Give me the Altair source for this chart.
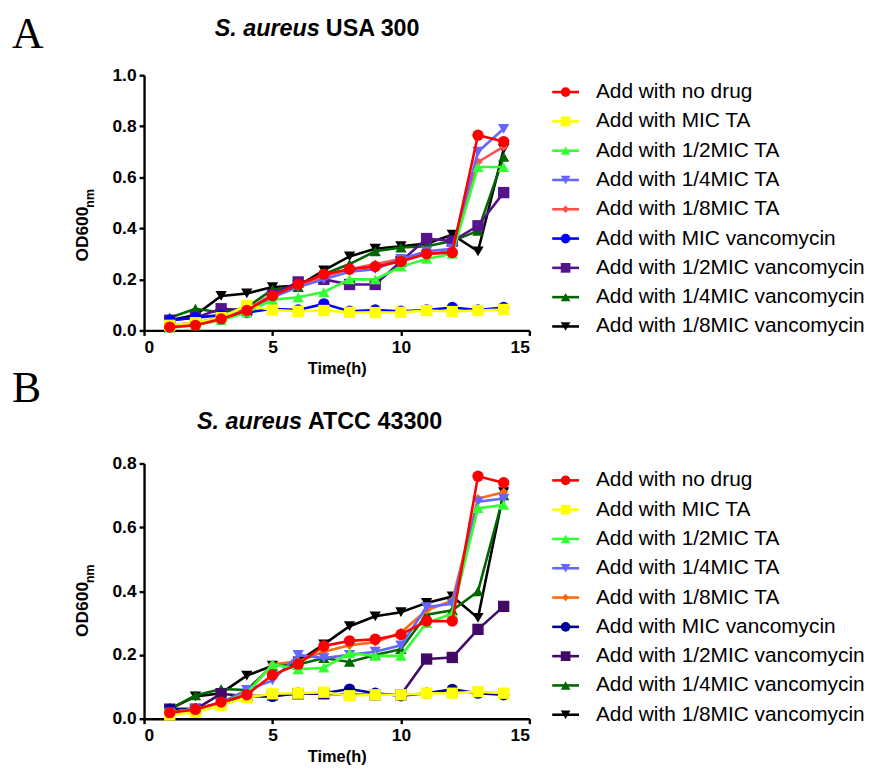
import altair as alt
import pandas as pd

hours = list(range(1, 15))

names = ["Add with no drug", "Add with MIC TA", "Add with 1/2MIC TA", "Add with 1/4MIC TA",
         "Add with 1/8MIC TA", "Add with MIC vancomycin", "Add with 1/2MIC vancomycin",
         "Add with 1/4MIC vancomycin", "Add with 1/8MIC vancomycin"]
shapes = ["circle", "square", "triangle-up", "triangle-down", "diamond",
          "circle", "square", "triangle-up", "triangle-down"]
colors_A = ["#FF0000", "#FFFF00", "#33FF33", "#6666FF", "#FF5050",
            "#0000FF", "#56148C", "#006600", "#000000"]
colors_B = ["#FF0000", "#FFFF00", "#33FF33", "#6666FF", "#FF6A10",
            "#000099", "#420A66", "#006600", "#000000"]

# Panel A: S. aureus USA 300
noDrug_A    = [0.013, 0.020, 0.045, 0.078, 0.136, 0.180, 0.220, 0.240, 0.250, 0.270, 0.300, 0.305, 0.765, 0.740]
micTA_A     = [0.020, 0.030, 0.050, 0.098, 0.080, 0.075, 0.078, 0.071, 0.070, 0.071, 0.078, 0.074, 0.078, 0.082]
halfTA_A    = [0.010, 0.020, 0.040, 0.070, 0.120, 0.130, 0.150, 0.200, 0.200, 0.250, 0.280, 0.300, 0.640, 0.640]
quarterTA_A = [0.020, 0.030, 0.050, 0.080, 0.130, 0.170, 0.200, 0.230, 0.240, 0.280, 0.310, 0.320, 0.700, 0.790]
eighthTA_A  = [0.020, 0.030, 0.050, 0.080, 0.140, 0.170, 0.210, 0.240, 0.260, 0.280, 0.300, 0.310, 0.660, 0.720]
micV_A      = [0.040, 0.050, 0.060, 0.070, 0.085, 0.080, 0.104, 0.075, 0.080, 0.075, 0.080, 0.090, 0.080, 0.090]
halfV_A     = [0.040, 0.050, 0.085, 0.080, 0.140, 0.190, 0.200, 0.180, 0.180, 0.270, 0.360, 0.350, 0.410, 0.540]
quarterV_A  = [0.050, 0.085, 0.070, 0.090, 0.160, 0.170, 0.220, 0.260, 0.310, 0.325, 0.330, 0.350, 0.390, 0.680]
eighthV_A   = [0.040, 0.060, 0.135, 0.145, 0.170, 0.175, 0.235, 0.290, 0.320, 0.330, 0.340, 0.375, 0.310, 0.710]

# Panel B: S. aureus ATCC 43300
noDrug_B    = [0.019, 0.029, 0.052, 0.075, 0.137, 0.171, 0.228, 0.244, 0.249, 0.264, 0.306, 0.306, 0.760, 0.740]
micTA_B     = [0.012, 0.020, 0.041, 0.067, 0.078, 0.080, 0.083, 0.072, 0.075, 0.075, 0.080, 0.080, 0.085, 0.080]
halfTA_B    = [0.020, 0.030, 0.050, 0.080, 0.170, 0.155, 0.160, 0.205, 0.197, 0.197, 0.300, 0.330, 0.660, 0.670]
quarterTA_B = [0.020, 0.030, 0.050, 0.090, 0.120, 0.200, 0.190, 0.200, 0.210, 0.230, 0.350, 0.360, 0.680, 0.690]
eighthTA_B  = [0.020, 0.030, 0.050, 0.080, 0.170, 0.180, 0.210, 0.230, 0.240, 0.270, 0.340, 0.370, 0.690, 0.710]
micV_B      = [0.030, 0.030, 0.050, 0.070, 0.070, 0.080, 0.080, 0.093, 0.080, 0.072, 0.080, 0.092, 0.080, 0.075]
halfV_B     = [0.030, 0.030, 0.078, 0.070, 0.075, 0.078, 0.078, 0.075, 0.075, 0.075, 0.187, 0.192, 0.280, 0.352]
quarterV_B  = [0.030, 0.073, 0.093, 0.090, 0.166, 0.170, 0.190, 0.178, 0.200, 0.218, 0.326, 0.340, 0.399, 0.700]
eighthV_B   = [0.030, 0.070, 0.080, 0.135, 0.166, 0.180, 0.233, 0.290, 0.321, 0.334, 0.363, 0.383, 0.316, 0.710]

series_A = [noDrug_A, micTA_A, halfTA_A, quarterTA_A, eighthTA_A, micV_A, halfV_A, quarterV_A, eighthV_A]
series_B = [noDrug_B, micTA_B, halfTA_B, quarterTA_B, eighthTA_B, micV_B, halfV_B, quarterV_B, eighthV_B]

W, H = 388, 257
FONT = "Liberation Sans"
one = pd.DataFrame({"k": [0]})


def text_layer(txt, x, y, size, weight="bold", style="normal", align="center",
               baseline="middle", angle=0, font=FONT):
    return alt.Chart(one).mark_text(
        text=txt, fontSize=size, fontWeight=weight, fontStyle=style, align=align,
        baseline=baseline, angle=angle, font=font, color="black"
    ).encode(x=alt.value(x), y=alt.value(y))


def panel(series, colors, ymax, letter, strain, split, letter_y, title_y, od_y, nm_y):
    rows = []
    for n, vals in zip(names, series):
        for t, v in zip(hours, vals):
            rows.append({"t": t, "od": v, "series": n})
    df = pd.DataFrame(rows)

    xenc = alt.X("t:Q", scale=alt.Scale(domain=[0, 15], nice=False),
                 axis=alt.Axis(values=[0, 5, 10, 15], title="Time(h)", format="d"))
    yenc = alt.Y("od:Q", scale=alt.Scale(domain=[0, ymax], nice=False),
                 axis=alt.Axis(values=[round(0.2 * i, 1) for i in range(int(round(ymax / 0.2)) + 1)],
                               format=".1f", title=None))

    data_layers = []
    for i in reversed(range(len(names))):
        base = alt.Chart(df).transform_filter(alt.datum.series == names[i])
        size = 85 if shapes[i] == "diamond" else 130
        data_layers.append(base.mark_line(strokeWidth=2.6, color=colors[i]).encode(x=xenc, y=yenc))
        data_layers.append(base.mark_point(shape=shapes[i], filled=True, opacity=1, size=size,
                                           color=colors[i]).encode(x=xenc, y=yenc))
    data = alt.layer(*data_layers)

    leg_df = pd.DataFrame({"name": names, "row": list(range(len(names))),
                           "sz": [55 if s == "diamond" else 95 for s in shapes]})
    ly = alt.Y("row:Q", scale=alt.Scale(domain=[0, 8], range=[17, 253]), axis=None)
    lcol = alt.Color("name:N", scale=alt.Scale(domain=names, range=colors), legend=None)
    lshape = alt.Shape("name:N", scale=alt.Scale(domain=names, range=shapes), legend=None)
    leg_line = alt.Chart(leg_df).mark_rule(strokeWidth=2.6).encode(
        x=alt.value(411), x2=alt.value(438), y=ly, color=lcol)
    leg_pt = alt.Chart(leg_df).mark_point(filled=True, opacity=1).encode(
        x=alt.value(424.5), y=ly, color=lcol, shape=lshape,
        size=alt.Size("sz:Q", scale=None, legend=None))
    leg_txt = alt.Chart(leg_df).mark_text(align="left", baseline="middle", fontSize=21,
                                          font=FONT, color="black").encode(
        x=alt.value(455), y=ly, text="name:N")
    legend = alt.layer(leg_line, leg_pt, leg_txt)

    deco = alt.layer(
        text_layer(letter, -133, letter_y, 44, weight="normal", align="left",
                   baseline="alphabetic", font="Liberation Serif"),
        text_layer("S. aureus", split, title_y, 23.5, style="italic", align="right"),
        text_layer(strain, split + 6, title_y, 23.5, align="left"),
        text_layer("OD600", -61, od_y, 17.5, angle=270),
        text_layer("nm", -54, nm_y, 12.5, angle=270),
    )

    return alt.layer(data, legend, deco).resolve_scale(
        y="independent", color="independent", shape="independent", size="independent"
    ).properties(width=W, height=H)


pA = panel(series_A, colors_A, 1.0, "A", "USA 300", 177, -27, -46, 160, 124)
pB = panel(series_B, colors_B, 0.8, "B", "ATCC 43300", 159, -62, -42, 147, 111)

chart = alt.vconcat(pA, pB, spacing=134, bounds="flush").properties(
    padding={"left": 4, "top": 3, "right": 2, "bottom": 5}
).configure_view(stroke=None).configure_axis(
    grid=False, domainColor="black", domainWidth=2.4, tickColor="black", tickWidth=2.4,
    tickSize=5, labelFont=FONT, labelFontWeight="bold", labelFontSize=17.5, labelColor="black",
    labelPadding=3, titleFont=FONT, titleFontWeight="bold", titleFontSize=16.5, titleColor="black",
    titlePadding=5
)

chart.save("out.html", embed_options={"renderer": "svg", "actions": False})
